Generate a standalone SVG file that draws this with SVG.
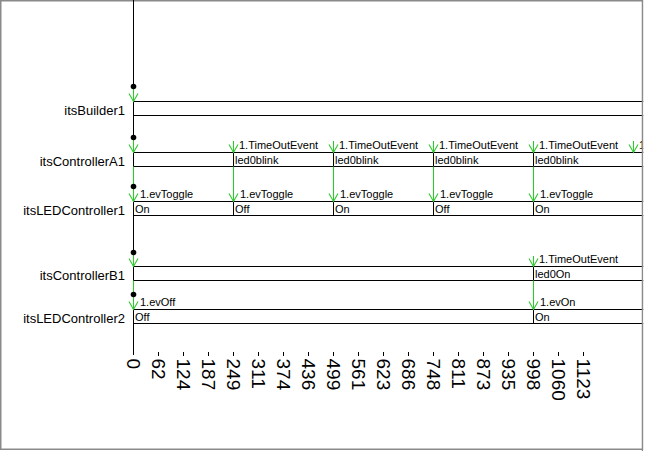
<svg xmlns="http://www.w3.org/2000/svg" width="645" height="451" viewBox="0 0 645 451">
<style>
.lbl{font-family:"Liberation Sans",Arial,sans-serif;font-size:13px;fill:#000;text-anchor:end}
.ev{font-family:"Liberation Sans",Arial,sans-serif;font-size:11px;fill:#000}
.st{font-family:"Liberation Sans",Arial,sans-serif;font-size:11px;fill:#000}
.ax{font-family:"Liberation Sans",Arial,sans-serif;font-size:19px;fill:#000}
.box{fill:#fff;stroke:#000;stroke-width:1}
.blk{stroke:#000;stroke-width:1;fill:none}
.grn{stroke:#2ec82e;stroke-width:1.1;fill:none;marker-end:url(#ah)}
.dot{fill:#000}
</style>
<defs>
<marker id="ah" markerUnits="userSpaceOnUse" viewBox="-10 -6 11 12" markerWidth="11" markerHeight="12" refX="0" refY="0" orient="auto">
<path d="M-8,-4.5 L0,0 L-8,4.5" fill="none" stroke="#2ec82e" stroke-width="1.1"/>
</marker>
</defs>
<rect x="0.75" y="0.75" width="642" height="448.5" fill="#fff" stroke="#8a8a8a" stroke-width="1.5"/>

<g id="axis">
<path class="blk" d="M133.5,0 V86 M133.5,115.5 V137 M133.5,215.5 V252 M133.5,323.5 V355"/>
<path class="blk" d="M158.5,352V356M183.5,352V356M208.5,352V356M233.5,352V356M258.5,352V356M283.5,352V356M308.5,352V356M333.5,352V356M358.5,352V356M383.5,352V356M408.5,352V356M433.5,352V356M458.5,352V356M483.5,352V356M508.5,352V356M533.5,352V356M558.5,352V356M583.5,352V356"/>
<text class="ax" transform="translate(127,358.5) rotate(90)">0</text>
<text class="ax" transform="translate(152,358.5) rotate(90)">62</text>
<text class="ax" transform="translate(177,358.5) rotate(90)">124</text>
<text class="ax" transform="translate(202,358.5) rotate(90)">187</text>
<text class="ax" transform="translate(227,358.5) rotate(90)">249</text>
<text class="ax" transform="translate(252,358.5) rotate(90)">311</text>
<text class="ax" transform="translate(277,358.5) rotate(90)">374</text>
<text class="ax" transform="translate(302,358.5) rotate(90)">436</text>
<text class="ax" transform="translate(327,358.5) rotate(90)">499</text>
<text class="ax" transform="translate(352,358.5) rotate(90)">561</text>
<text class="ax" transform="translate(377,358.5) rotate(90)">623</text>
<text class="ax" transform="translate(402,358.5) rotate(90)">686</text>
<text class="ax" transform="translate(427,358.5) rotate(90)">748</text>
<text class="ax" transform="translate(452,358.5) rotate(90)">811</text>
<text class="ax" transform="translate(477,358.5) rotate(90)">873</text>
<text class="ax" transform="translate(502,358.5) rotate(90)">935</text>
<text class="ax" transform="translate(527,358.5) rotate(90)">998</text>
<text class="ax" transform="translate(552,358.5) rotate(90)">1060</text>
<text class="ax" transform="translate(577,358.5) rotate(90)">1123</text>
</g>

<g id="itsBuilder1">
<rect class="box" x="133.5" y="101.5" width="520" height="14"/>
<text class="lbl" x="125" y="115">itsBuilder1</text>
</g>

<g id="itsControllerA1">
<rect class="box" x="133.5" y="152.5" width="520" height="14"/>
<text class="lbl" x="125" y="166">itsControllerA1</text>
<path class="blk" d="M233.5,152.5V166.5M333.5,152.5V166.5M433.5,152.5V166.5M533.5,152.5V166.5"/>
<text class="st" x="235" y="163.5">led0blink</text>
<text class="st" x="335" y="163.5">led0blink</text>
<text class="st" x="435" y="163.5">led0blink</text>
<text class="st" x="535" y="163.5">led0blink</text>
</g>

<g id="itsLEDController1">
<rect class="box" x="133.5" y="201.5" width="520" height="14"/>
<text class="lbl" x="125" y="215">itsLEDController1</text>
<path class="blk" d="M233.5,201.5V215.5M333.5,201.5V215.5M433.5,201.5V215.5M533.5,201.5V215.5"/>
<text class="st" x="135" y="212.5">On</text>
<text class="st" x="235" y="212.5">Off</text>
<text class="st" x="335" y="212.5">On</text>
<text class="st" x="435" y="212.5">Off</text>
<text class="st" x="535" y="212.5">On</text>
</g>

<g id="itsControllerB1">
<rect class="box" x="133.5" y="266.5" width="520" height="14"/>
<text class="lbl" x="125" y="280">itsControllerB1</text>
<path class="blk" d="M533.5,266.5V280.5"/>
<text class="st" x="535" y="277.5">led0On</text>
</g>

<g id="itsLEDController2">
<rect class="box" x="133.5" y="309.5" width="520" height="14"/>
<text class="lbl" x="125" y="323">itsLEDController2</text>
<path class="blk" d="M533.5,309.5V323.5"/>
<text class="st" x="135" y="320.5">Off</text>
<text class="st" x="535" y="320.5">On</text>
</g>

<g id="connectors">
<path class="grn" d="M133.5,86V101.5"/>
<path class="grn" d="M133.5,137V152.5"/>
<path class="grn" d="M133.5,166.5V201.5"/>
<path class="grn" d="M133.5,252V266.5"/>
<path class="grn" d="M133.5,280.5V309.5"/>
<path class="grn" d="M233.5,141V152.5"/>
<path class="grn" d="M333.5,141V152.5"/>
<path class="grn" d="M433.5,141V152.5"/>
<path class="grn" d="M533.5,141V152.5"/>
<path class="grn" d="M633.5,141V152.5"/>
<path class="grn" d="M233.5,166.5V201.5"/>
<path class="grn" d="M333.5,166.5V201.5"/>
<path class="grn" d="M433.5,166.5V201.5"/>
<path class="grn" d="M533.5,166.5V201.5"/>
<path class="grn" d="M533.5,256V266.5"/>
<path class="grn" d="M533.5,280.5V309.5"/>
<circle class="dot" cx="133.5" cy="86.5" r="2.8"/>
<circle class="dot" cx="133.5" cy="137.5" r="2.8"/>
<circle class="dot" cx="133.5" cy="186.5" r="2.8"/>
<circle class="dot" cx="133.5" cy="252.5" r="2.8"/>
<circle class="dot" cx="133.5" cy="294.5" r="2.8"/>
<text class="ev" x="140" y="197.5">1.evToggle</text>
<text class="ev" x="240" y="197.5">1.evToggle</text>
<text class="ev" x="340" y="197.5">1.evToggle</text>
<text class="ev" x="440" y="197.5">1.evToggle</text>
<text class="ev" x="540" y="197.5">1.evToggle</text>
<text class="ev" x="239" y="149">1.TimeOutEvent</text>
<text class="ev" x="339" y="149">1.TimeOutEvent</text>
<text class="ev" x="439" y="149">1.TimeOutEvent</text>
<text class="ev" x="539" y="149">1.TimeOutEvent</text>
<text class="ev" x="639" y="149">1</text>
<text class="ev" x="539" y="263">1.TimeOutEvent</text>
<text class="ev" x="140" y="305.5">1.evOff</text>
<text class="ev" x="540" y="305.5">1.evOn</text>
</g>
<path d="M642.5,0V451" stroke="#8a8a8a" stroke-width="1.5"/>
<rect x="643.3" y="0" width="2" height="451" fill="#fff"/>
</svg>
